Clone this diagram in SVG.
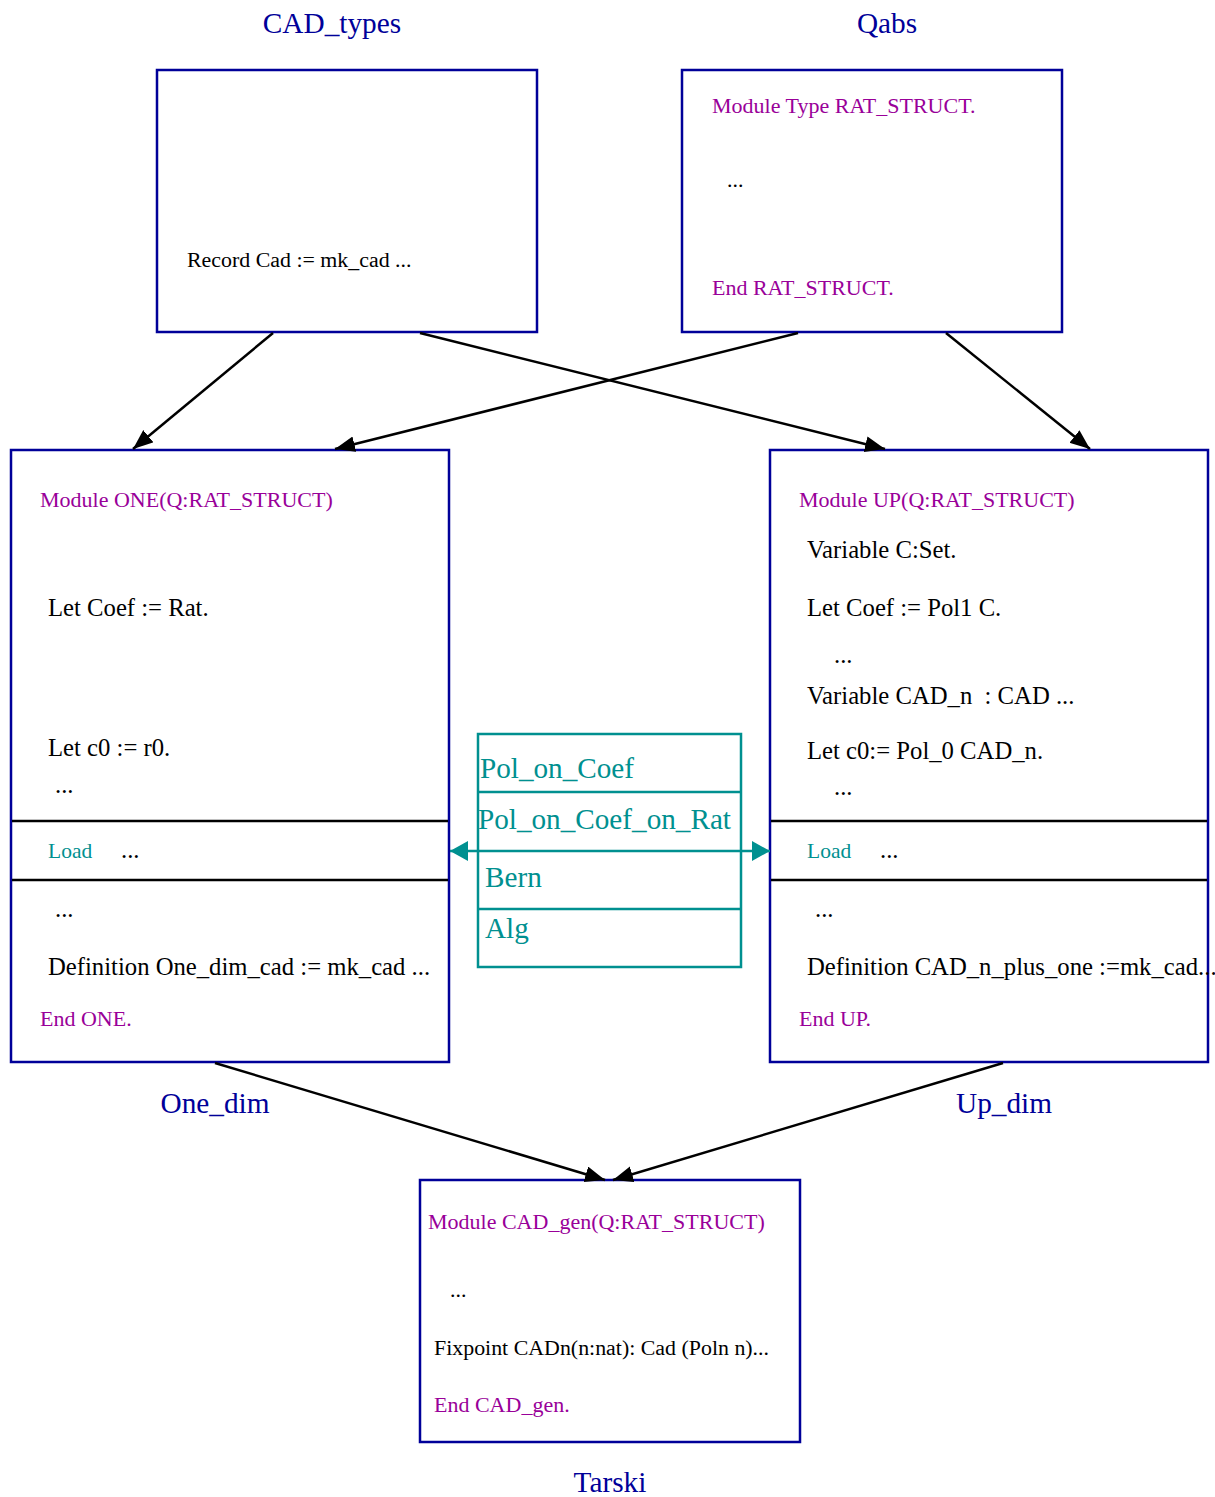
<svg xmlns="http://www.w3.org/2000/svg" width="1215" height="1497" viewBox="0 0 1215 1497">
<style>
text { font-family: "Liberation Serif", "Times New Roman", serif; }
.box { fill: #ffffff; stroke: #000099; stroke-width: 2.5; }
.sep { stroke: #000000; stroke-width: 2.5; }
.title { fill: #000099; font-size: 29.3px; text-anchor: middle; }
.kw { fill: #990099; font-size: 22px; }
.code { fill: #000000; font-size: 24.7px; }
.codes { fill: #000000; font-size: 21.9px; }
.load { fill: #009090; font-size: 21.5px; }
.lib { fill: #009090; font-size: 29.2px; }
.libbox { fill: #ffffff; stroke: #009090; stroke-width: 2.5; }
.edge { stroke: #000000; stroke-width: 2.5; fill: none; marker-end: url(#ah); }
.tealedge { stroke: #009090; stroke-width: 2.5; fill: none; marker-start: url(#ahT); marker-end: url(#ahT); }
</style>
<defs>
<marker id="ah" markerUnits="userSpaceOnUse" markerWidth="22" markerHeight="18" refX="20" refY="8" orient="auto">
<path d="M0,0 L20,8 L0,16 z" fill="#000000"/>
</marker>
<marker id="ahT" markerUnits="userSpaceOnUse" markerWidth="20" markerHeight="22" refX="18" refY="10" orient="auto-start-reverse">
<path d="M0,0 L18,10 L0,20 z" fill="#009090"/>
</marker>
</defs>
<rect width="1215" height="1497" fill="#ffffff"/>

<g id="CAD_types">
<text class="title" x="332" y="33">CAD_types</text>
<rect class="box" x="157" y="70" width="380" height="262"/>
<text class="codes" x="187" y="267">Record Cad := mk_cad ...</text>
</g>

<g id="Qabs">
<text class="title" x="887" y="33">Qabs</text>
<rect class="box" x="682" y="70" width="380" height="262"/>
<text class="kw" x="712" y="113">Module Type RAT_STRUCT.</text>
<text class="codes" x="727" y="187">...</text>
<text class="kw" x="712" y="295">End RAT_STRUCT.</text>
</g>

<g id="One_dim">
<rect class="box" x="11" y="450" width="438" height="612"/>
<line class="sep" x1="12" y1="821" x2="448" y2="821"/>
<line class="sep" x1="12" y1="880" x2="448" y2="880"/>
<text class="kw" x="40" y="507">Module ONE(Q:RAT_STRUCT)</text>
<text class="code" x="48" y="616">Let Coef := Rat.</text>
<text class="code" x="48" y="756">Let c0 := r0.</text>
<text class="code" x="55" y="793">...</text>
<text class="load" x="48" y="858">Load</text>
<text class="code" x="121" y="858">...</text>
<text class="code" x="55" y="917">...</text>
<text class="code" x="48" y="975">Definition One_dim_cad := mk_cad ...</text>
<text class="kw" x="40" y="1026">End ONE.</text>
<text class="title" x="215" y="1113">One_dim</text>
</g>

<g id="Up_dim">
<rect class="box" x="770" y="450" width="438" height="612"/>
<line class="sep" x1="771" y1="821" x2="1207" y2="821"/>
<line class="sep" x1="771" y1="880" x2="1207" y2="880"/>
<text class="kw" x="799" y="507">Module UP(Q:RAT_STRUCT)</text>
<text class="code" x="807" y="558">Variable C:Set.</text>
<text class="code" x="807" y="616">Let Coef := Pol1 C.</text>
<text class="code" x="834" y="663">...</text>
<text class="code" x="807" y="704" xml:space="preserve">Variable CAD_n  : CAD ...</text>
<text class="code" x="807" y="759">Let c0:= Pol_0 CAD_n.</text>
<text class="code" x="834" y="795">...</text>
<text class="load" x="807" y="858">Load</text>
<text class="code" x="880" y="858">...</text>
<text class="code" x="815" y="917">...</text>
<text class="code" x="807" y="975">Definition CAD_n_plus_one :=mk_cad...</text>
<text class="kw" x="799" y="1026">End UP.</text>
<text class="title" x="1004" y="1113">Up_dim</text>
</g>

<g id="Libraries">
<rect class="libbox" x="478" y="734" width="263" height="233"/>
<line stroke="#009090" stroke-width="2.5" x1="478" y1="792" x2="741" y2="792"/>
<line stroke="#009090" stroke-width="2.5" x1="478" y1="909" x2="741" y2="909"/>
<text class="lib" x="480" y="778">Pol_on_Coef</text>
<text class="lib" x="478" y="829">Pol_on_Coef_on_Rat</text>
<text class="lib" x="485" y="887">Bern</text>
<text class="lib" x="485" y="938">Alg</text>
</g>

<g id="Tarski">
<rect class="box" x="420" y="1180" width="380" height="262"/>
<text class="kw" x="428" y="1229">Module CAD_gen(Q:RAT_STRUCT)</text>
<text class="codes" x="450" y="1297">...</text>
<text class="codes" x="434" y="1355">Fixpoint CADn(n:nat): Cad (Poln n)...</text>
<text class="kw" x="434" y="1412">End CAD_gen.</text>
<text class="title" x="610" y="1492">Tarski</text>
</g>

<g id="connectors">
<line class="edge" x1="273" y1="333" x2="133" y2="449"/>
<line class="edge" x1="420" y1="333" x2="885" y2="449"/>
<line class="edge" x1="798" y1="333" x2="335" y2="449"/>
<line class="edge" x1="946" y1="333" x2="1090" y2="449"/>
<line class="edge" x1="215" y1="1063" x2="605" y2="1180"/>
<line class="edge" x1="1003" y1="1063" x2="613" y2="1180"/>
<line class="tealedge" x1="450" y1="851" x2="770" y2="851"/>
</g>
</svg>
